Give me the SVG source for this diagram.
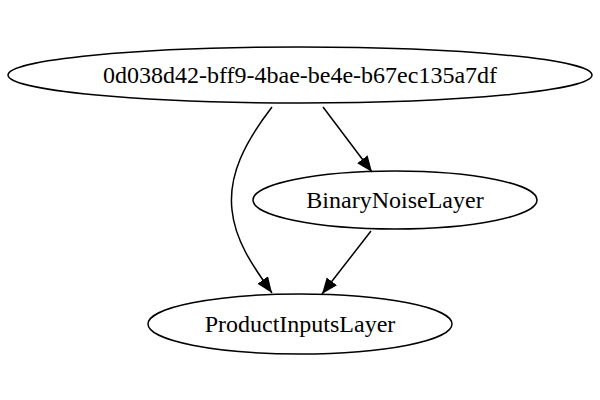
<svg xmlns="http://www.w3.org/2000/svg" width="600" height="400" viewBox="0 0 600 400">
<style>
.n ellipse{fill:none;stroke:#000;stroke-width:1.5}
.n text{font-family:"Liberation Serif","Times New Roman",serif;font-size:24px;fill:#000;text-anchor:middle}
.e path{fill:none;stroke:#000;stroke-width:1.5}
</style>
<defs>
<marker id="ah" markerUnits="userSpaceOnUse" markerWidth="17" markerHeight="14" refX="16" refY="6.5" orient="auto">
<path d="M0,0 L16,6.5 L0,13 z" fill="#000"/>
</marker>
</defs>
<rect width="600" height="400" fill="#fff"/>
<g id="edges" class="e">
<path d="M272,107 C245,142 228,175 232,210 C235,240 252,265 272,293" marker-end="url(#ah)"/>
<path d="M323,107 L372,172" marker-end="url(#ah)"/>
<path d="M371,231 L322,294" marker-end="url(#ah)"/>
</g>
<g id="node-root" class="n">
<ellipse cx="300" cy="75" rx="292" ry="28"/>
<text x="300" y="83">0d038d42-bff9-4bae-be4e-b67ec135a7df</text>
</g>
<g id="node-binary" class="n">
<ellipse cx="395" cy="200" rx="142" ry="29"/>
<text x="395" y="208">BinaryNoiseLayer</text>
</g>
<g id="node-product" class="n">
<ellipse cx="300" cy="324" rx="152" ry="30"/>
<text x="300" y="332">ProductInputsLayer</text>
</g>
</svg>
